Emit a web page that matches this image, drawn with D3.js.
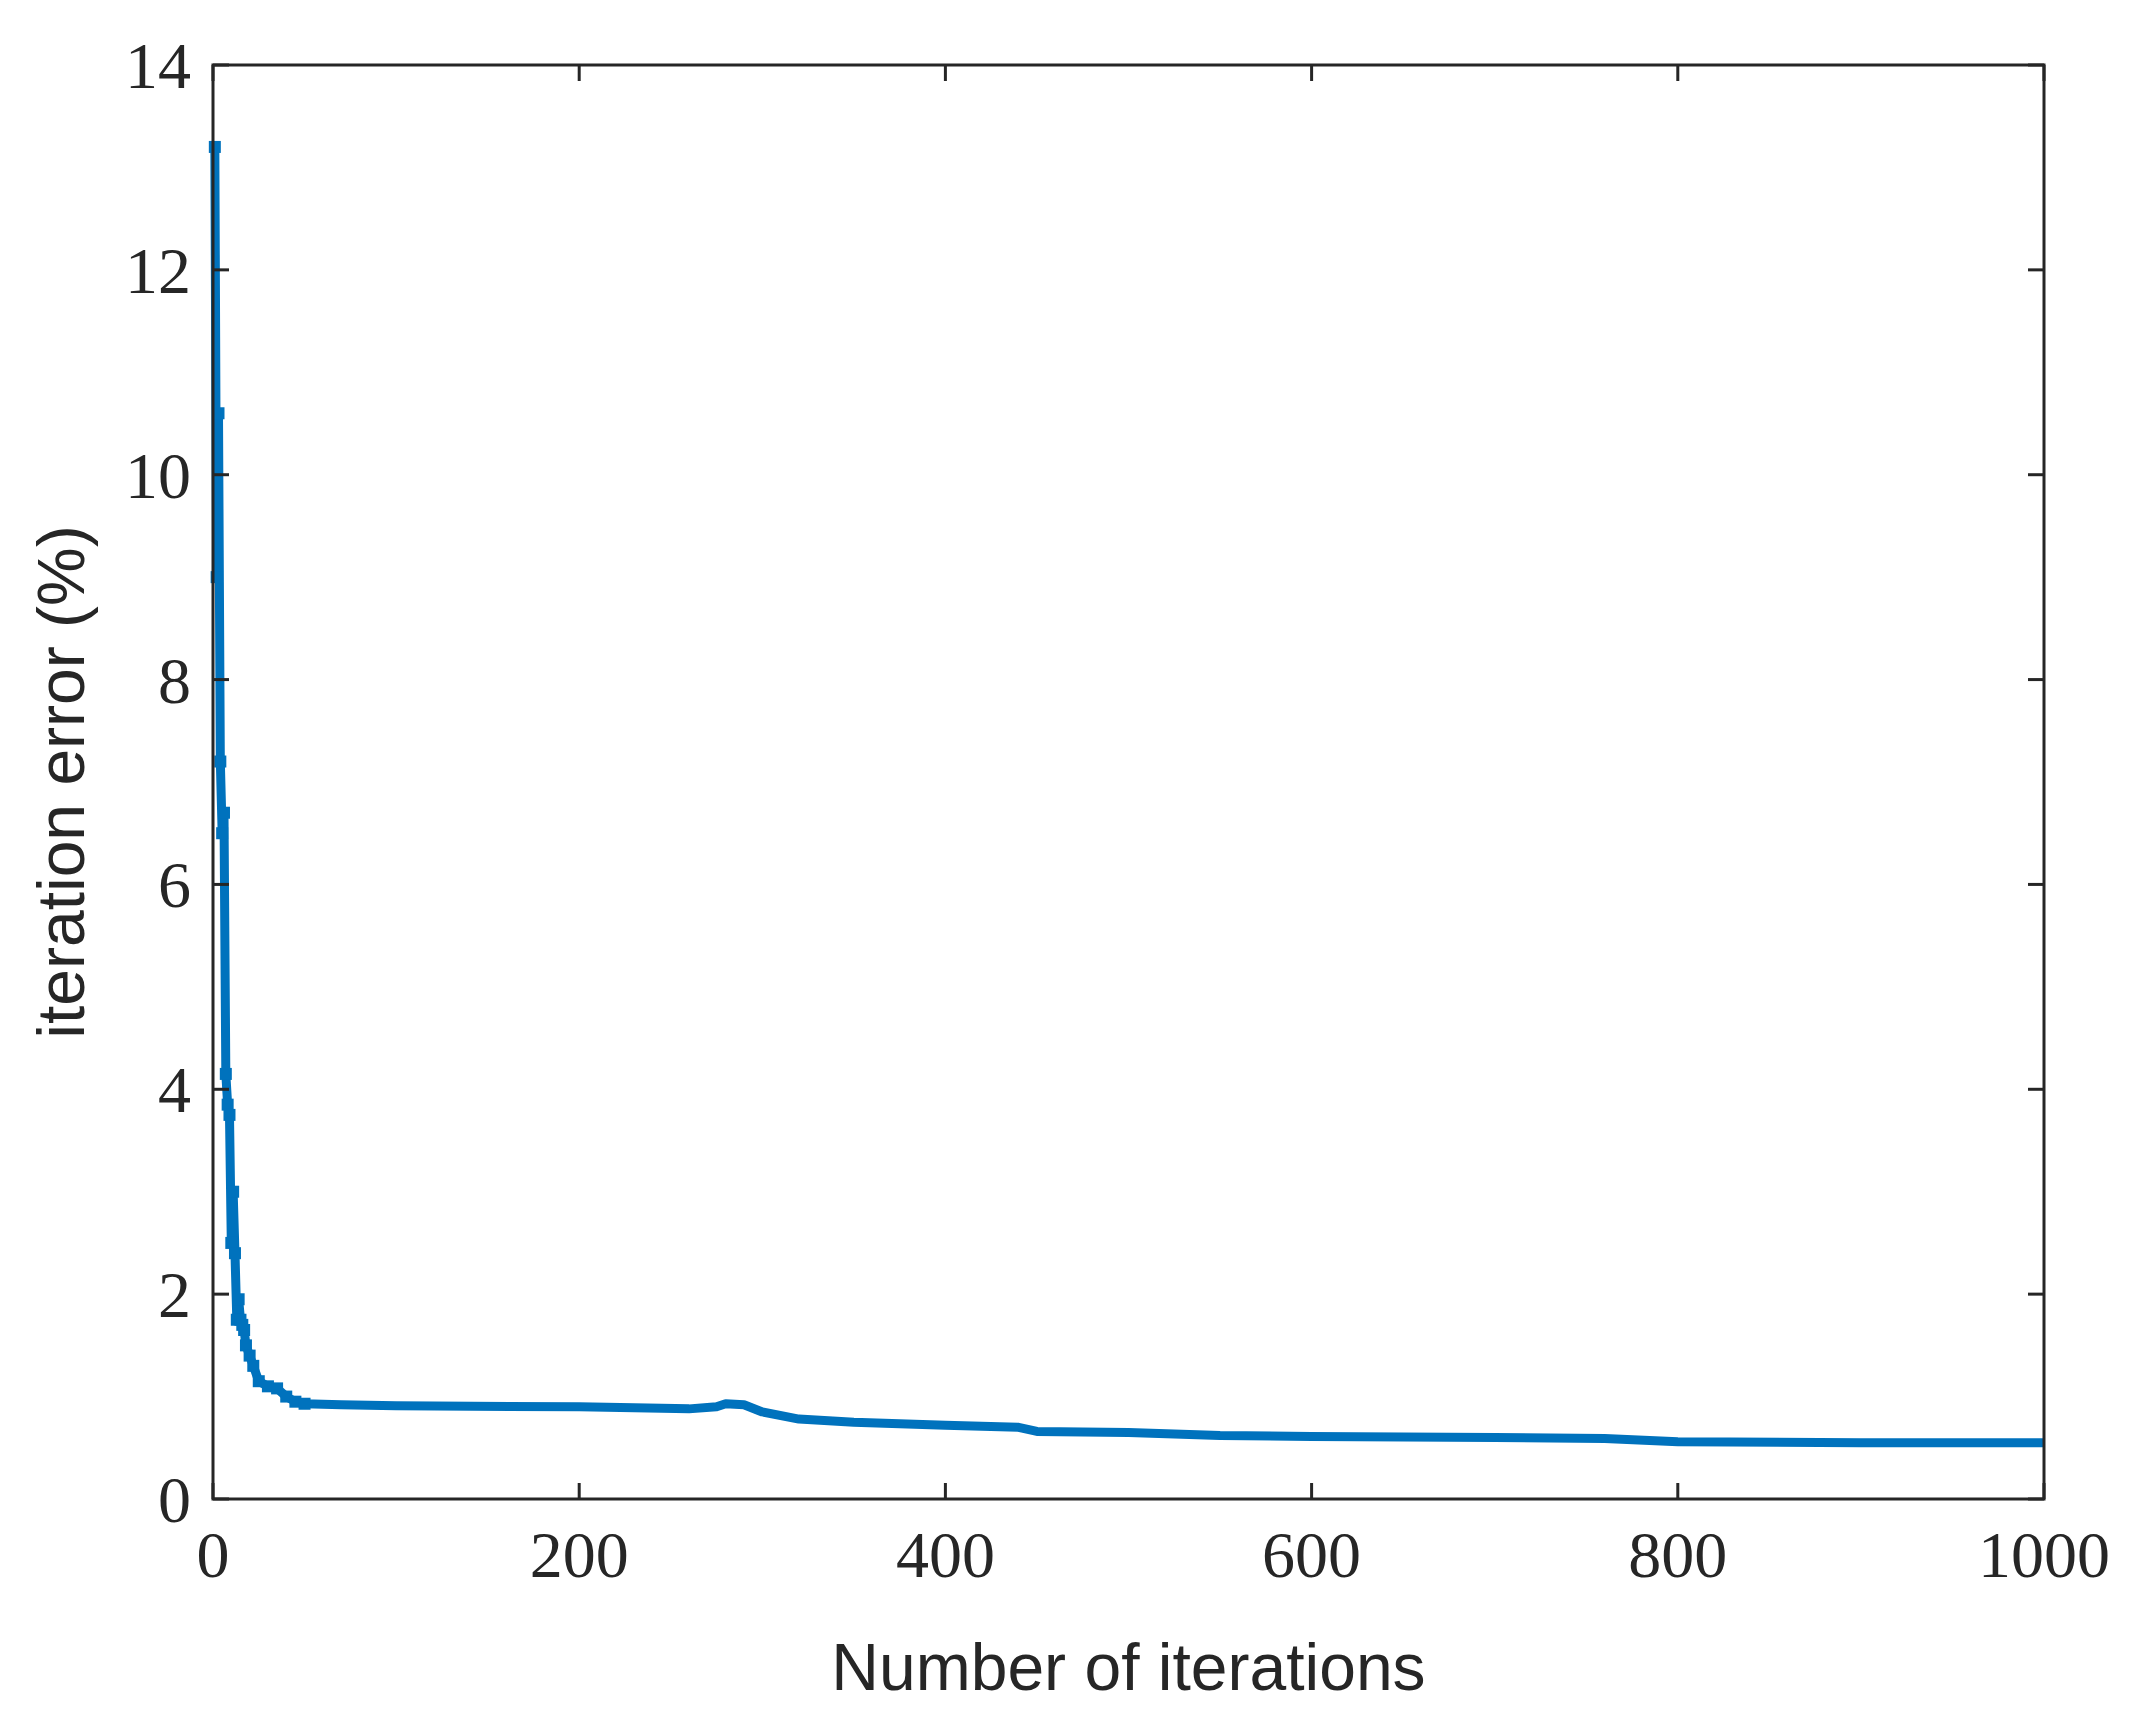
<!DOCTYPE html>
<html><head><meta charset="utf-8">
<script src="https://cdn.jsdelivr.net/npm/d3@7"></script>
<style>body{margin:0;background:#fff}</style></head>
<body><svg id="c" width="2139" height="1733"></svg>
<script>
const iterations = [1,2,3,4,5,6,7,8,9,10,11,12,13,14,15,16,17,18,20,22,25,30,35,40,45,50,70,100,200,260,275,280,290,300,320,350,400,440,450,500,550,600,700,760,800,900,1000];
const errors = [13.2,9.0,10.6,7.2,6.5,6.7,4.15,3.85,3.75,2.5,3.0,2.4,1.75,1.95,1.75,1.7,1.65,1.5,1.4,1.3,1.15,1.1,1.08,1.0,0.95,0.93,0.92,0.91,0.9,0.88,0.9,0.93,0.92,0.85,0.78,0.75,0.72,0.7,0.66,0.65,0.62,0.61,0.6,0.59,0.56,0.55,0.55];
const xTicks = [0,200,400,600,800,1000];
const yTicks = [0,2,4,6,8,10,12,14];
const data = iterations.map((d,i)=>({x:d,y:errors[i]}));
const svg = d3.select("#c");
const L=213,R=2044,T=65,B=1499;
const x = d3.scaleLinear().domain([0,1000]).range([L,R]);
const y = d3.scaleLinear().domain([0,14]).range([B,T]);
const col="#0072BD";
svg.append("path").datum(data).attr("fill","none").attr("stroke",col).attr("stroke-width",9)
  .attr("stroke-linejoin","round").attr("d",d3.line().x(d=>x(d.x)).y(d=>y(d.y)));
svg.selectAll("rect.m").data(data.filter(d=>d.x<=50)).join("rect").attr("class","m")
  .attr("x",d=>x(d.x)-6).attr("y",d=>y(d.y)-6).attr("width",12).attr("height",12).attr("fill",col);
const ax = svg.append("g").attr("font-family","Liberation Serif").attr("font-size",66).attr("fill","#262626");
svg.append("rect").attr("x",L).attr("y",T).attr("width",R-L).attr("height",B-T).attr("fill","none").attr("stroke","#262626").attr("stroke-width",3);
xTicks.forEach(t=>{
  svg.append("line").attr("x1",x(t)).attr("x2",x(t)).attr("y1",B).attr("y2",B-16).attr("stroke","#262626").attr("stroke-width",3);
  svg.append("line").attr("x1",x(t)).attr("x2",x(t)).attr("y1",T).attr("y2",T+16).attr("stroke","#262626").attr("stroke-width",3);
  ax.append("text").attr("x",x(t)).attr("y",B+78).attr("text-anchor","middle").text(t);
});
yTicks.forEach(t=>{
  svg.append("line").attr("x1",L).attr("x2",L+16).attr("y1",y(t)).attr("y2",y(t)).attr("stroke","#262626").attr("stroke-width",3);
  svg.append("line").attr("x1",R).attr("x2",R-16).attr("y1",y(t)).attr("y2",y(t)).attr("stroke","#262626").attr("stroke-width",3);
  ax.append("text").attr("x",L-22).attr("y",y(t)+23).attr("text-anchor","end").text(t);
});
svg.append("text").attr("x",(L+R)/2).attr("y",1690).attr("text-anchor","middle")
  .attr("font-family","Liberation Sans").attr("font-size",66).attr("fill","#262626").text("Number of iterations");
svg.append("text").attr("transform",`translate(84,${(T+B)/2}) rotate(-90)`).attr("text-anchor","middle")
  .attr("font-family","Liberation Sans").attr("font-size",66).attr("fill","#262626").text("iteration error (%)");
</script></body></html>
